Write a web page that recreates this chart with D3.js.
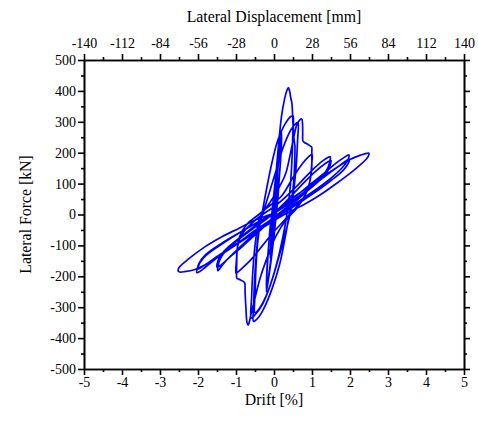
<!DOCTYPE html>
<html>
<head>
<meta charset="utf-8">
<script src="https://cdn.jsdelivr.net/npm/d3@7"></script>
<style>
  body { margin: 0; background: #fff; }
  svg { display: block; }
  .tick text { font-family: "Liberation Serif", "Times New Roman", serif; font-size: 14px; fill: #000; }
  .title { font-family: "Liberation Serif", "Times New Roman", serif; font-size: 15.8px; fill: #000; }
</style>
</head>
<body>
<svg id="chart" width="478" height="421"></svg>
<script>
// ----------------------------
// Data: drift [%], lateral force [kN]
// ----------------------------
const driftTicks = [-5, -4, -3, -2, -1, 0, 1, 2, 3, 4, 5];
const dispTicks = [-140, -112, -84, -56, -28, 0, 28, 56, 84, 112, 140];
const forceTicks = [-500, -400, -300, -200, -100, 0, 100, 200, 300, 400, 500];

const cycle01 = [
  [0, 0], [0.05, 80], [0.1, 150], [0.09, 110], [0.05, 40], [0.02, 0],
  [-0.04, -70], [-0.1, -140], [-0.09, -100], [-0.05, -35], [-0.02, 0]
];
const cycle02 = [
  [0.04, 60], [0.12, 170], [0.2, 270], [0.19, 220], [0.15, 140], [0.1, 50], [0.06, 0],
  [0, -70], [-0.1, -170], [-0.2, -250], [-0.19, -200], [-0.15, -120], [-0.1, -40], [-0.06, 0],
  [0, 70], [0.1, 180], [0.2, 262], [0.19, 210], [0.14, 120], [0.08, 30], [0.05, 0],
  [-0.02, -80], [-0.12, -180], [-0.2, -243], [-0.19, -190], [-0.14, -100], [-0.08, -20], [-0.05, 0]
];
const cycle05 = [
  [0.03, 100], [0.1, 200], [0.2, 320], [0.28, 375], [0.33, 398], [0.376, 411],
  [0.41, 400], [0.44, 378], [0.47, 361], [0.49, 320], [0.51, 273], [0.53, 240], [0.55, 222],
  [0.545, 170], [0.52, 110], [0.47, 50], [0.4, 0], [0.3, -70], [0.15, -160], [-0.05, -240],
  [-0.25, -300], [-0.4, -332], [-0.5, -344], [-0.54, -346],
  [-0.535, -290], [-0.51, -210], [-0.46, -120], [-0.4, -50], [-0.32, 0],
  [-0.2, 80], [-0.05, 170], [0.1, 240], [0.3, 295], [0.45, 318], [0.5, 320],
  [0.495, 260], [0.47, 170], [0.42, 80], [0.36, 20], [0.3, -30], [0.15, -120], [-0.05, -210],
  [-0.25, -275], [-0.42, -310], [-0.5, -318],
  [-0.495, -250], [-0.47, -160], [-0.42, -80], [-0.35, -20], [-0.3, 0]
];
const cycle075 = [
  [-0.15, 60], [0.05, 140], [0.25, 220], [0.45, 275], [0.58, 295], [0.63, 298],
  [0.62, 240], [0.58, 150], [0.5, 60], [0.42, 0], [0.3, -60], [0.1, -150], [-0.1, -230],
  [-0.3, -290], [-0.5, -325], [-0.6, -335],
  [-0.59, -270], [-0.55, -170], [-0.48, -80], [-0.4, -20], [-0.33, 0]
];
const cycle10 = [
  [-0.1, 40], [0.1, 80], [0.3, 130], [0.42, 190], [0.52, 250], [0.6, 290], [0.68, 306], [0.73, 309],
  [0.75, 295], [0.755, 260], [0.76, 238], [0.8, 233], [0.88, 228], [0.95, 222], [0.99, 219],
  [0.995, 200], [0.99, 144], [0.94, 105], [0.85, 70], [0.6, 20], [0.3, -20], [0.05, -70],
  [-0.15, -130], [-0.35, -200], [-0.5, -270], [-0.6, -320], [-0.65, -348], [-0.68, -358],
  [-0.71, -350], [-0.74, -300], [-0.76, -255], [-0.77, -222], [-0.8, -217], [-0.88, -212],
  [-0.95, -208], [-0.98, -206],
  [-0.985, -190], [-0.98, -150], [-0.97, -115], [-0.9, -70], [-0.7, -30], [-0.4, 0], [-0.1, 30],
  [0.2, 60], [0.5, 120], [0.75, 165], [0.92, 188], [1.0, 195],
  [0.99, 160], [0.95, 110], [0.85, 70], [0.6, 25], [0.3, -15], [0, -55],
  [-0.3, -100], [-0.6, -145], [-0.85, -175], [-0.97, -188], [-1.0, -190],
  [-0.99, -150], [-0.95, -100], [-0.85, -65], [-0.6, -30], [-0.3, 0], [0, 25]
];
const cycle15 = [
  [0.2, 45], [0.6, 92], [1.0, 143], [1.3, 175], [1.43, 185], [1.48, 187],
  [1.47, 172], [1.42, 152], [1.3, 128], [1.0, 95], [0.6, 52], [0.2, 10], [-0.2, -28],
  [-0.6, -72], [-1.0, -118], [-1.3, -155], [-1.43, -176], [-1.48, -182],
  [-1.47, -165], [-1.42, -145], [-1.3, -122], [-1.0, -88], [-0.6, -50], [-0.2, -15], [0, 5],
  [0.3, 40], [0.7, 92], [1.05, 135], [1.35, 165], [1.47, 174], [1.5, 175],
  [1.48, 160], [1.4, 138], [1.2, 110], [0.8, 68], [0.4, 25], [0, -12],
  [-0.4, -55], [-0.8, -100], [-1.2, -142], [-1.4, -164], [-1.5, -170],
  [-1.48, -152], [-1.4, -132], [-1.2, -105], [-0.8, -65], [-0.4, -28], [0, 3]
];
const cycle20 = [
  [0.5, 52], [1.0, 102], [1.4, 142], [1.65, 168], [1.85, 185], [1.94, 192], [1.97, 193],
  [1.95, 178], [1.8, 152], [1.5, 118], [1.0, 72], [0.5, 30], [0, -10],
  [-0.5, -52], [-1.0, -97], [-1.5, -140], [-1.8, -170], [-1.96, -185], [-2.03, -188],
  [-2.01, -172], [-1.85, -140], [-1.45, -102], [-0.95, -62], [-0.45, -27], [0, 3],
  [0.5, 45], [1.0, 92], [1.5, 138], [1.8, 165], [1.95, 178], [1.98, 180],
  [1.96, 167], [1.82, 143], [1.5, 110], [1.0, 65], [0.5, 24], [0, -14],
  [-0.5, -54], [-1.0, -96], [-1.5, -136], [-1.8, -162], [-1.95, -174], [-2.0, -176],
  [-1.98, -160], [-1.8, -130], [-1.4, -95], [-0.9, -58], [-0.4, -23], [0, 6]
];
const cycle25 = [
  [0.5, 55], [1.0, 97], [1.5, 140], [2.0, 178], [2.28, 192], [2.44, 198], [2.5, 198],
  [2.48, 188], [2.42, 178], [2.26, 160], [2.0, 133], [1.65, 101], [1.21, 63], [0.77, 31],
  [0.33, 4], [0, -20], [-0.5, -58], [-1.0, -98], [-1.54, -142], [-1.81, -163],
  [-2.08, -178], [-2.35, -185], [-2.48, -186], [-2.52, -183],
  [-2.5, -172], [-2.24, -143], [-1.81, -104], [-1.37, -72], [-0.93, -45], [-0.49, -18],
  [-0.14, -2], [0, 6]
];

const loops = [cycle01, cycle02, cycle05, cycle075, cycle10, cycle15, cycle20, cycle25];

// ----------------------------
// Plotting
// ----------------------------
const svg = d3.select("#chart");
const mLeft = 84, mRight = 464, mTop = 60, mBottom = 369;

const x = d3.scaleLinear().domain([-5, 5]).range([mLeft, mRight]);
const xTop = d3.scaleLinear().domain([-140, 140]).range([mLeft, mRight]);
const y = d3.scaleLinear().domain([-500, 500]).range([mBottom, mTop]);

const minorOf = (ticks) => {
  const out = [];
  for (let i = 0; i < ticks.length - 1; i++) out.push((ticks[i] + ticks[i + 1]) / 2);
  return out;
};
const plain = d => String(d); // hyphen-minus, as in the original

function styleAxis(g) {
  g.select(".domain").attr("stroke", "#000").attr("stroke-width", 1.6);
  g.selectAll(".tick line").attr("stroke", "#000").attr("stroke-width", 1.6);
}

// curve
const line = d3.line()
    .x(d => x(d[0]))
    .y(d => y(d[1]))
    .curve(d3.curveCatmullRom.alpha(0.5));

svg.append("path")
    .datum(loops.flat())
    .attr("fill", "none")
    .attr("stroke", "#0000ff")
    .attr("stroke-width", 1.7)
    .attr("stroke-linejoin", "round")
    .attr("d", line);

// bottom
svg.append("g").attr("transform", `translate(0,${mBottom})`)
    .call(d3.axisBottom(x).tickValues(driftTicks).tickSize(6).tickSizeOuter(0).tickPadding(2).tickFormat(plain))
    .call(styleAxis);
svg.append("g").attr("transform", `translate(0,${mBottom})`)
    .call(d3.axisBottom(x).tickValues(minorOf(driftTicks)).tickSize(3).tickSizeOuter(0).tickFormat(""))
    .call(styleAxis);

// top
svg.append("g").attr("transform", `translate(0,${mTop})`)
    .call(d3.axisTop(xTop).tickValues(dispTicks).tickSize(6).tickSizeOuter(0).tickPadding(6).tickFormat(plain))
    .call(styleAxis);
svg.append("g").attr("transform", `translate(0,${mTop})`)
    .call(d3.axisTop(xTop).tickValues(minorOf(dispTicks)).tickSize(3).tickSizeOuter(0).tickFormat(""))
    .call(styleAxis);

// left
svg.append("g").attr("transform", `translate(${mLeft},0)`)
    .call(d3.axisLeft(y).tickValues(forceTicks).tickSize(6).tickSizeOuter(0).tickPadding(2).tickFormat(plain))
    .call(styleAxis);
svg.append("g").attr("transform", `translate(${mLeft},0)`)
    .call(d3.axisLeft(y).tickValues(minorOf(forceTicks)).tickSize(3).tickSizeOuter(0).tickFormat(""))
    .call(styleAxis);

// right
svg.append("g").attr("transform", `translate(${mRight},0)`)
    .call(d3.axisRight(y).tickValues(forceTicks).tickSize(6).tickSizeOuter(0).tickFormat(""))
    .call(styleAxis);
svg.append("g").attr("transform", `translate(${mRight},0)`)
    .call(d3.axisRight(y).tickValues(minorOf(forceTicks)).tickSize(3).tickSizeOuter(0).tickFormat(""))
    .call(styleAxis);

// titles
svg.append("text").attr("class", "title")
    .attr("x", (mLeft + mRight) / 2).attr("y", 22)
    .attr("text-anchor", "middle")
    .text("Lateral Displacement [mm]");

svg.append("text").attr("class", "title")
    .attr("x", (mLeft + mRight) / 2).attr("y", 405)
    .attr("text-anchor", "middle")
    .text("Drift [%]");

svg.append("text").attr("class", "title")
    .attr("transform", `translate(31,${(mTop + mBottom) / 2}) rotate(-90)`)
    .attr("text-anchor", "middle")
    .text("Lateral Force [kN]");
</script>
</body>
</html>
